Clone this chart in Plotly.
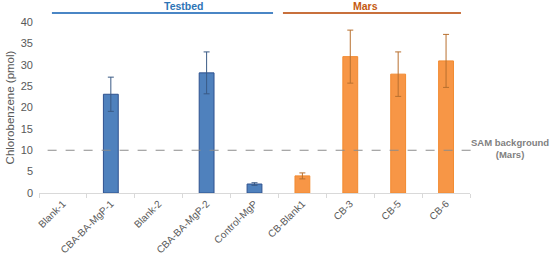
import plotly.graph_objects as go

categories = ["Blank-1", "CBA-BA-MgP-1", "Blank-2", "CBA-BA-MgP-2", "Control-MgP",
              "CB-Blank1", "CB-3", "CB-5", "CB-6"]
testbed_cats = ["Blank-1", "CBA-BA-MgP-1", "Blank-2", "CBA-BA-MgP-2", "Control-MgP"]
testbed_vals = [None, 23.1, None, 28.1, 2.1]
testbed_err = [None, 4.0, None, 4.9, 0.3]
mars_cats = ["CB-Blank1", "CB-3", "CB-5", "CB-6"]
mars_vals = [4.0, 31.9, 27.8, 30.9]
mars_err = [0.7, 6.2, 5.2, 6.2]
sam_background = 10

fig = go.Figure()
fig.add_trace(go.Bar(
    x=testbed_cats, y=testbed_vals, width=0.31,
    marker=dict(color="#4f81bd", line=dict(color="#2f528f", width=1)),
    error_y=dict(type="data", array=testbed_err, color="#3a5a85", thickness=1, width=3),
    showlegend=False))
fig.add_trace(go.Bar(
    x=mars_cats, y=mars_vals, width=0.31,
    marker=dict(color="#f79646", line=dict(color="#f28a30", width=1)),
    error_y=dict(type="data", array=mars_err, color="#b8702f", thickness=1, width=3),
    showlegend=False))

fig.add_shape(type="line", xref="paper", yref="y", x0=0.02, x1=1.008,
              y0=sam_background, y1=sam_background,
              line=dict(color="#8c8c8c", width=1, dash="dash"))
# group lines
fig.add_shape(type="line", xref="paper", yref="paper", x0=0.03, x1=0.543, y0=1.053, y1=1.053,
              line=dict(color="#4a86c5", width=2))
fig.add_shape(type="line", xref="paper", yref="paper", x0=0.566, x1=0.979, y0=1.053, y1=1.053,
              line=dict(color="#c8703c", width=2))
fig.add_annotation(text="<b>Testbed</b>", xref="paper", yref="paper", x=0.286, y=1.092,
                   yanchor="middle", showarrow=False,
                   font=dict(family="Liberation Sans, Arial", size=10.5, color="#2e75b6"))
fig.add_annotation(text="<b>Mars</b>", xref="paper", yref="paper", x=0.792, y=1.092,
                   yanchor="middle", showarrow=False,
                   font=dict(family="Liberation Sans, Arial", size=10.5, color="#c55a11"))
fig.add_annotation(text="<b>SAM background<br>(Mars)</b>", xref="paper", yref="y",
                   x=1.093, y=sam_background + 0.4, xanchor="center", yanchor="middle",
                   showarrow=False,
                   font=dict(family="Liberation Sans, Arial", size=9.5, color="#7f7f7f"))

fig.update_layout(
    width=550, height=254,
    margin=dict(l=39, r=80, t=22, b=61, autoexpand=False),
    plot_bgcolor="white", paper_bgcolor="white",
    barmode="overlay",
    font=dict(family="Liberation Sans, Arial", size=10, color="#595959"),
    xaxis=dict(categoryorder="array", categoryarray=categories, range=[-0.5, 8.5],
               tickangle=-45, showline=True, linecolor="#d9d9d9", ticks="outside",
               tickson="boundaries", tickcolor="#d9d9d9", ticklen=4, showgrid=False,
               automargin=False, tickfont=dict(size=10, color="#595959")),
    yaxis=dict(range=[0, 40], dtick=5, showgrid=False, zeroline=False, showline=False,
               automargin=False, ticklabelstandoff=5, tickfont=dict(size=11, color="#595959"),
               title=dict(text="Chlorobenzene (pmol)", standoff=3,
                          font=dict(size=11.5, color="#595959"))),
)
fig.write_html("out.html", config={"displayModeBar": False},
               post_script="document.body.style.margin='0';document.body.style.overflow='hidden';")
